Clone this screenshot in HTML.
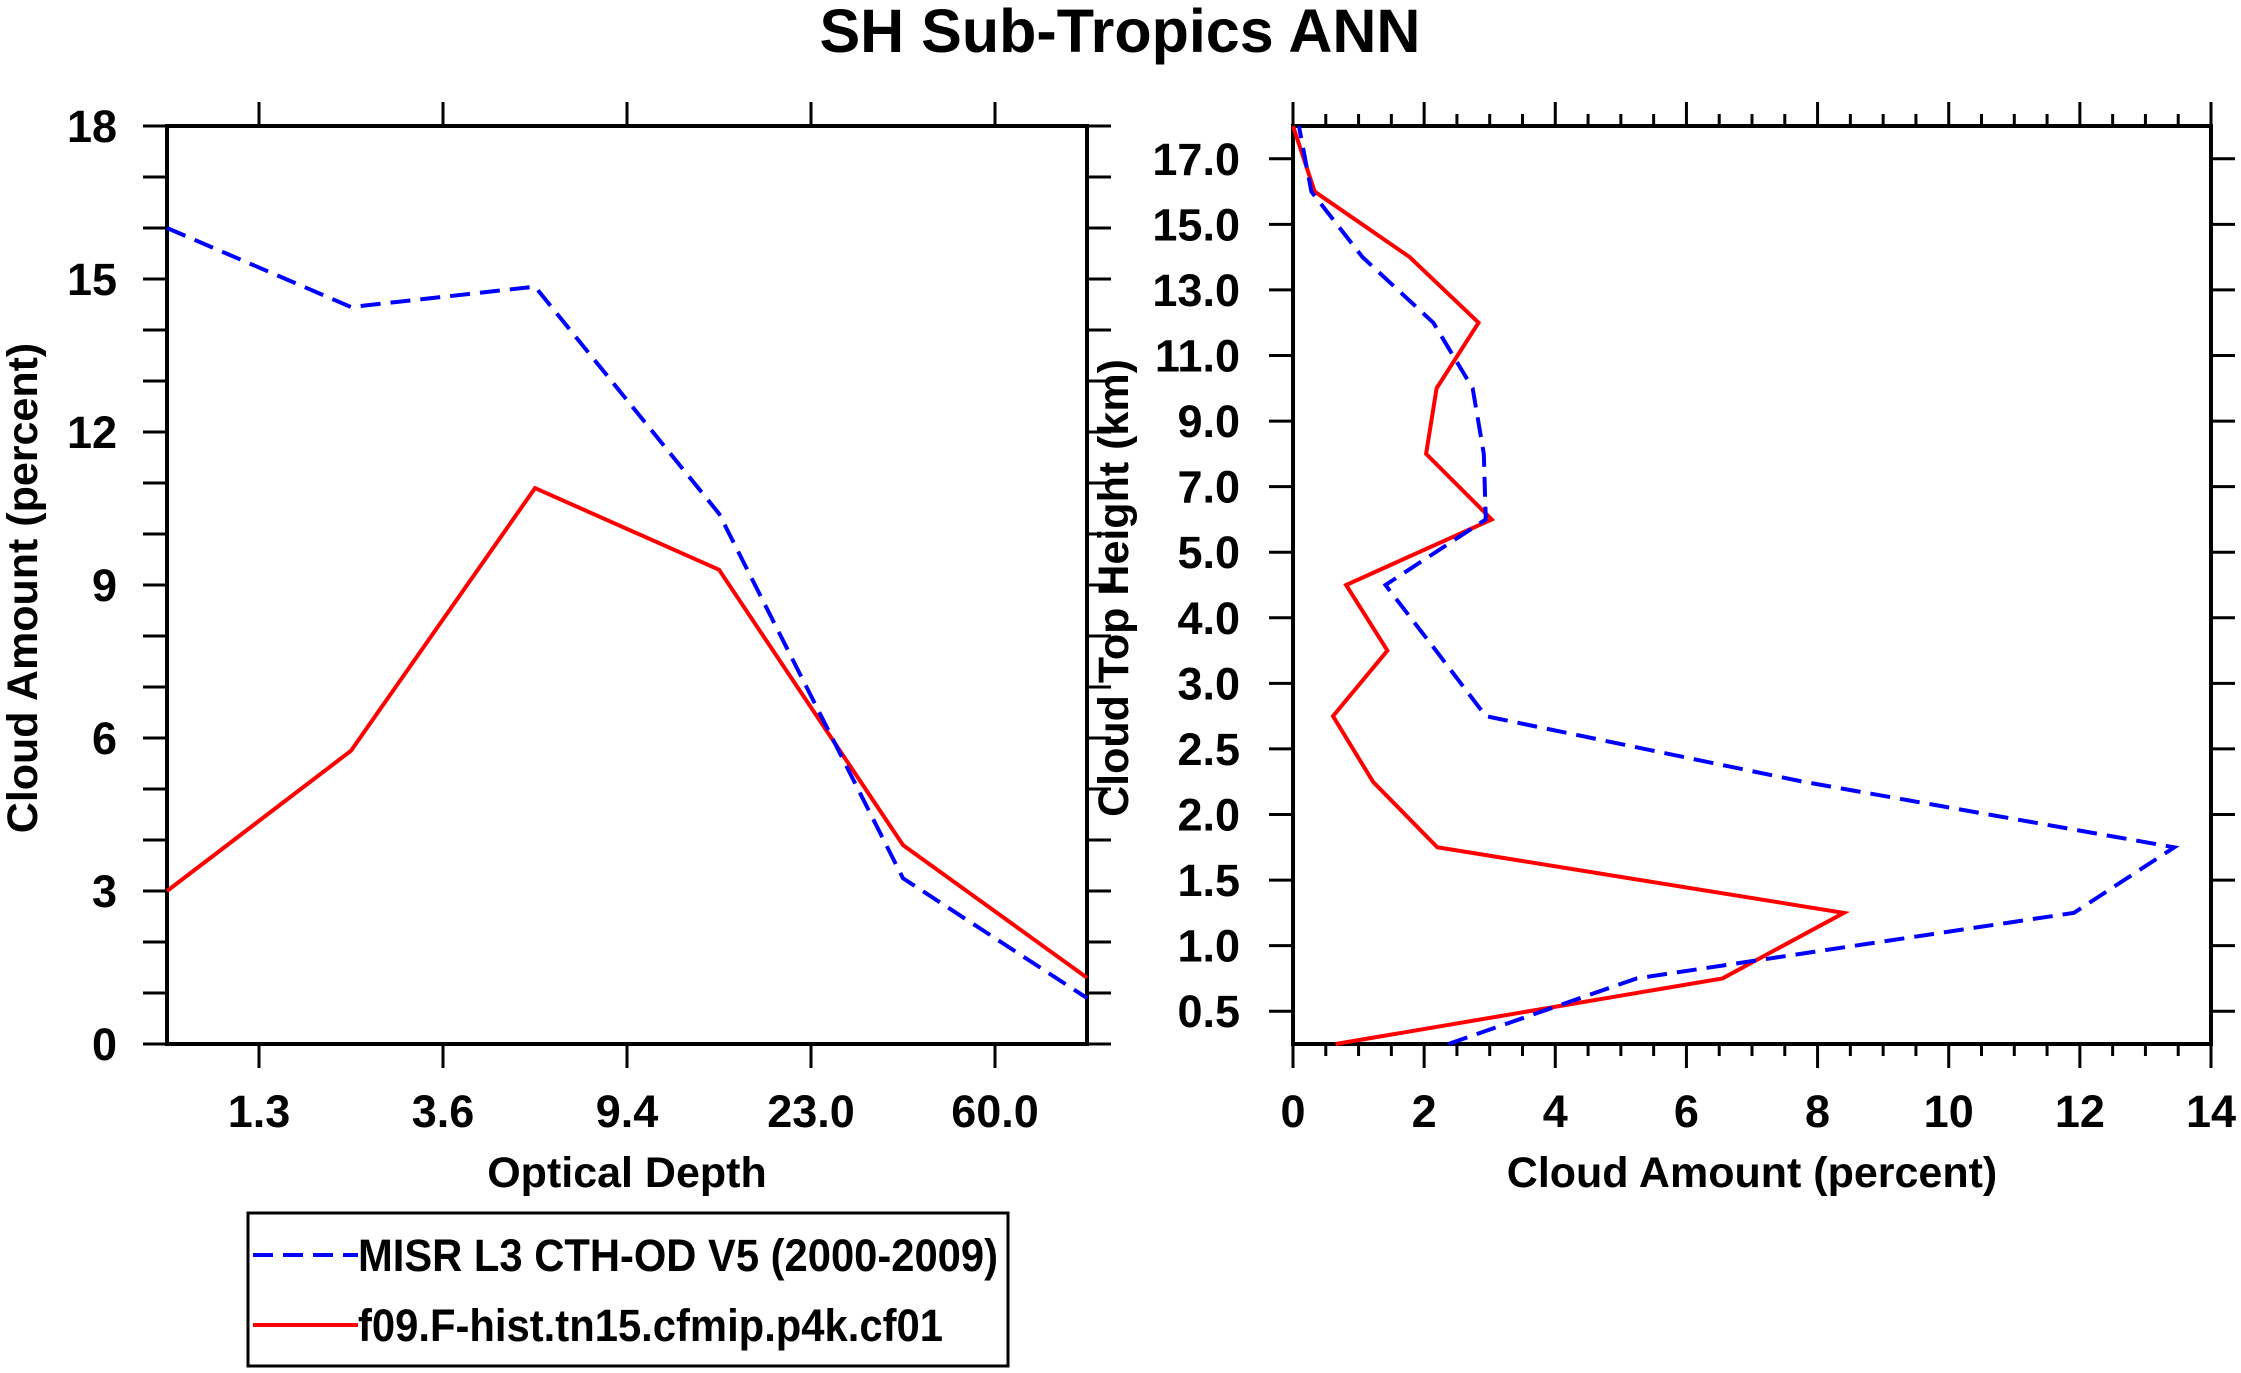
<!DOCTYPE html>
<html><head><meta charset="utf-8"><style>
html,body{margin:0;padding:0;background:#fff;}
svg{display:block;font-family:"Liberation Sans",Arial,sans-serif;font-weight:bold;}
</style></head><body>
<svg id="chart" width="2241" height="1373" viewBox="0 0 2241 1373" xmlns="http://www.w3.org/2000/svg">
<text x="1120" y="52" font-size="61" text-anchor="middle">SH Sub-Tropics ANN</text>
<g id="left"></g>
<g id="right"></g>
<g id="legend">
<rect x="248" y="1213" width="760" height="153" fill="none" stroke="#000" stroke-width="3"/>
<line x1="253" y1="1255" x2="358" y2="1255" stroke="#0000ff" stroke-width="4" stroke-dasharray="20,10"/>
<text x="358" y="1271" font-size="45" textLength="640" lengthAdjust="spacingAndGlyphs">MISR L3 CTH-OD V5 (2000-2009)</text>
<line x1="253" y1="1325" x2="358" y2="1325" stroke="#ff0000" stroke-width="4"/>
<text x="358" y="1341" font-size="45" textLength="585" lengthAdjust="spacingAndGlyphs">f09.F-hist.tn15.cfmip.p4k.cf01</text>
</g>
</svg>
<script>
// Left panel data
const odLabels = ["1.3","3.6","9.4","23.0","60.0"];
const odMisr = [16.0, 14.45, 14.85, 10.4, 3.25, 0.9];
const odModel = [3.0, 5.75, 10.9, 9.3, 3.9, 1.3];
const leftYTicks = [0,3,6,9,12,15,18];
// Right panel data
const cthLabels = ["0.5","1.0","1.5","2.0","2.5","3.0","4.0","5.0","7.0","9.0","11.0","13.0","15.0","17.0"];
const cthMisr = [2.37,5.24,11.91,13.44,7.78,2.94,2.18,1.41,2.94,2.91,2.74,2.14,1.06,0.28,0.09];
const cthModel = [0.65,6.55,8.4,2.2,1.22,0.61,1.44,0.81,3.03,2.03,2.19,2.83,1.78,0.33,0.0];
const rightXTicks = [0,2,4,6,8,10,12,14];

const NS="http://www.w3.org/2000/svg";
function mk(parent,tag,attrs,text){const e=document.createElementNS(NS,tag);for(const k in attrs)e.setAttribute(k,attrs[k]);if(text!==undefined)e.textContent=text;parent.appendChild(e);return e;}

// ---------- Left panel ----------
const L=document.getElementById('left');
const lx0=167,lx1=1087,ly0=126,ly1=1044;
const lxs=i=>lx0+(lx1-lx0)*i/5;
const lys=v=>ly1-(ly1-ly0)*v/18;
for(let v=0;v<=18;v++){
  const y=lys(v);
  const t1=mk(L,'line',{x1:lx0-24,y1:y,x2:lx0,y2:y,stroke:'#000','stroke-width':3});
  
  
  const t2=mk(L,'line',{x1:lx1,y1:y,x2:lx1+24,y2:y,stroke:'#000','stroke-width':3});
  
  
}
leftYTicks.forEach(v=>{
  const t=mk(L,'text',{x:lx0-50,y:lys(v)+16,'font-size':45,'text-anchor':'end'},String(v));
  
  
});
odLabels.forEach((lab,i)=>{
  const x=lxs(i+0.5);
  const a=mk(L,'line',{x1:x,y1:ly1,x2:x,y2:ly1+24,stroke:'#000','stroke-width':3});
  
  
  const b=mk(L,'line',{x1:x,y1:ly0-24,x2:x,y2:ly0,stroke:'#000','stroke-width':3});
  
  
  const t=mk(L,'text',{x:x,y:1127,'font-size':45,'text-anchor':'middle'},lab);
  
  
});
const lframe=mk(L,'rect',{x:lx0,y:ly0,width:lx1-lx0,height:ly1-ly0,fill:'none',stroke:'#000','stroke-width':4});


const lp1=mk(L,'polyline',{points:odModel.map((v,i)=>lxs(i)+','+lys(v)).join(' '),fill:'none',stroke:'#ff0000','stroke-width':4});


const lp2=mk(L,'polyline',{points:odMisr.map((v,i)=>lxs(i)+','+lys(v)).join(' '),fill:'none',stroke:'#0000ff','stroke-width':4,'stroke-dasharray':'20,10'});


const lxt=mk(L,'text',{x:(lx0+lx1)/2,y:1187,'font-size':43,'text-anchor':'middle'},'Optical Depth');


const lyt=mk(L,'text',{x:0,y:0,'font-size':43,'text-anchor':'middle',transform:'translate(37,588) rotate(-90)'},'Cloud Amount (percent)');



// ---------- Right panel ----------
const R=document.getElementById('right');
const rx0=1293,rx1=2211,ry0=126,ry1=1044;
const rxs=v=>rx0+(rx1-rx0)*v/14;
const rys=i=>ry1-(ry1-ry0)*(i+0.5)/14;
for(let k=0;k<=28;k++){
  const v=k*0.5,x=rxs(v),len=(k%4===0)?24:12;
  const a=mk(R,'line',{x1:x,y1:ry1,x2:x,y2:ry1+len,stroke:'#000','stroke-width':3});
  
  
  const b=mk(R,'line',{x1:x,y1:ry0-len,x2:x,y2:ry0,stroke:'#000','stroke-width':3});
  
  
}
rightXTicks.forEach(v=>{
  const t=mk(R,'text',{x:rxs(v),y:1127,'font-size':45,'text-anchor':'middle'},String(v));
  
  
});
cthLabels.forEach((lab,i)=>{
  const y=rys(i);
  const a=mk(R,'line',{x1:rx0-24,y1:y,x2:rx0,y2:y,stroke:'#000','stroke-width':3});
  
  
  const b=mk(R,'line',{x1:rx1,y1:y,x2:rx1+24,y2:y,stroke:'#000','stroke-width':3});
  
  
  const t=mk(R,'text',{x:1240,y:y+16,'font-size':45,'text-anchor':'end'},lab);
  
  
});
const rframe=mk(R,'rect',{x:rx0,y:ry0,width:rx1-rx0,height:ry1-ry0,fill:'none',stroke:'#000','stroke-width':4});


const ry=k=>ry1-(ry1-ry0)*k/14;
const rp1=mk(R,'polyline',{points:cthModel.map((v,i)=>rxs(v)+','+ry(i)).join(' '),fill:'none',stroke:'#ff0000','stroke-width':4});


const rp2=mk(R,'polyline',{points:cthMisr.map((v,i)=>rxs(v)+','+ry(i)).join(' '),fill:'none',stroke:'#0000ff','stroke-width':4,'stroke-dasharray':'20,10'});


const rxt=mk(R,'text',{x:1752,y:1187,'font-size':43,'text-anchor':'middle'},'Cloud Amount (percent)');


const ryt=mk(R,'text',{x:0,y:0,'font-size':43,'text-anchor':'middle',transform:'translate(1128,588) rotate(-90)'},'Cloud Top Height (km)');


</script>
</body></html>
